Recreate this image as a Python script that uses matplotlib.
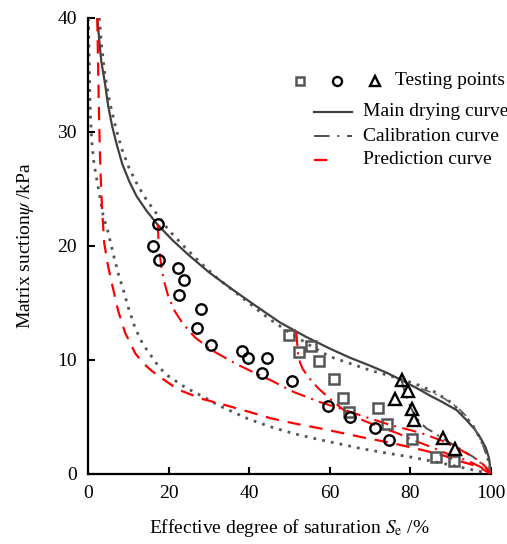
import matplotlib
matplotlib.use("Agg")
import matplotlib.pyplot as plt
from matplotlib.lines import Line2D

plt.rcParams['font.family'] = ['Liberation Serif', 'DejaVu Serif']
plt.rcParams['mathtext.fontset'] = 'stix'

# ---------------- data ----------------
# Testing points (Se %, suction kPa)
sq_x = [49.8, 52.3, 55.3, 57.2, 61.1, 63.2, 64.8, 72.0, 74.3, 80.5, 86.3, 90.9]
sq_y = [12.2, 10.7, 11.2, 9.9, 8.3, 6.7, 5.4, 5.8, 4.4, 3.1, 1.5, 1.1]

ci_x = [17.4, 16.1, 17.7, 22.3, 23.7, 22.5, 28.0, 27.1, 30.5, 38.1, 39.6, 44.3,
        43.1, 50.7, 59.6, 65.1, 71.3, 74.6]
ci_y = [21.9, 20.0, 18.8, 18.1, 17.0, 15.7, 14.5, 12.8, 11.3, 10.8, 10.2, 10.2,
        8.9, 8.2, 6.0, 5.0, 4.0, 3.0]

tr_x = [77.8, 79.3, 76.2, 80.5, 80.8, 88.0, 91.0]
tr_y = [8.25, 7.3, 6.6, 5.7, 4.7, 3.2, 2.2]

# Main drying curve
main_x = [2.3, 2.8, 3.3, 4.2, 5.0, 6.0, 7.2, 8.5, 10.2, 12.0, 14.5, 17.2, 21.0,
          25.0, 30.0, 35.0, 41.0, 47.6, 54.0, 60.0, 65.0, 70.0, 74.0, 78.0, 82.0,
          85.0, 88.0, 91.5, 94.0, 96.0, 97.5, 98.7, 99.5, 100.0]
main_y = [40.0, 38.0, 36.2, 34.3, 32.3, 30.5, 28.8, 27.2, 25.7, 24.4, 23.1, 21.9,
          20.5, 19.2, 17.7, 16.4, 14.9, 13.3, 12.05, 11.0, 10.2, 9.5, 8.9, 8.2, 7.45,
          6.85, 6.3, 5.6, 4.7, 3.9, 3.1, 2.3, 1.4, 0.0]

# Dotted curve close to main drying curve
dotm_x = [2.8, 3.4, 4.2, 5.4, 6.8, 8.3, 10.0, 12.2, 14.6, 17.5, 20.0, 24.0, 28.0,
          32.0, 36.0, 41.0, 45.0, 50.0, 55.0, 60.0, 65.0, 70.0, 74.0, 78.0, 82.0,
          86.0, 90.0, 93.0, 95.6, 97.5, 99.0, 100.0]
dotm_y = [40.0, 37.5, 35.0, 32.6, 30.5, 28.6, 27.0, 25.4, 24.0, 22.6, 21.4, 19.9,
          18.5, 17.2, 16.1, 14.7, 13.6, 12.4, 11.3, 10.3, 9.7, 9.1, 8.7, 8.3, 7.8,
          7.2, 6.3, 5.3, 4.2, 3.0, 1.7, 0.0]

# Dotted curve on the left (lower boundary)
dotl_x = [0.1, 0.3, 0.5, 0.9, 1.5, 2.2, 3.0, 3.8, 5.0, 6.2, 7.5, 8.8, 10.0, 11.7,
          13.6, 15.8, 17.8, 19.9, 22.0, 24.1, 27.4, 30.0, 32.8, 35.6, 40.0, 45.2,
          51.0, 57.6, 63.0, 67.5, 73.0, 79.9, 85.0, 89.8, 95.0, 100.0]
dotl_y = [40.0, 36.0, 32.5, 29.3, 27.2, 25.8, 24.2, 22.6, 21.2, 19.4, 17.6, 16.1,
          14.6, 12.8, 11.4, 10.3, 9.3, 8.6, 8.1, 7.6, 7.0, 6.5, 5.95, 5.5, 4.8, 4.15,
          3.55, 3.0, 2.6, 2.25, 1.9, 1.5, 1.15, 0.8, 0.4, 0.0]

# Prediction curve (main, left)
pred_x = [2.3, 2.5, 2.7, 2.9, 3.1, 3.5, 4.0, 5.0, 6.0, 7.5, 9.2, 11.7, 13.6, 15.8,
          18.3, 22.4, 28.2, 34.0, 40.0, 45.2, 51.0, 57.6, 63.0, 69.0, 75.0, 83.0,
          88.0, 91.5, 95.0, 97.3, 100.0]
pred_y = [40.0, 36.0, 32.0, 29.0, 26.5, 23.2, 20.3, 18.2, 16.6, 14.3, 12.4, 10.6,
          9.75, 9.05, 8.4, 7.4, 6.6, 6.05, 5.45, 4.9, 4.45, 4.0, 3.6, 3.15, 2.75, 2.1,
          1.65, 1.2, 0.85, 0.55, 0.0]

# Prediction scanning curve from circle series
scan1_x = [17.3, 17.5, 17.8, 18.2, 18.8, 19.9, 21.5, 23.5, 26.5, 30.5, 36.5, 40.0,
           45.2, 51.0, 57.6, 63.0, 68.0, 75.0, 80.0, 83.0, 88.0, 91.5, 95.0, 97.3,
           99.0, 100.0]
scan1_y = [21.9, 20.5, 19.3, 18.2, 17.0, 15.6, 14.3, 13.2, 12.0, 10.9, 9.7, 9.1,
           8.25, 7.2, 6.3, 5.7, 5.1, 4.3, 3.85, 3.55, 2.9, 2.3, 1.6, 1.1, 0.5, 0.0]

# Prediction scanning curve from square series
scan2_x = [51.7, 51.9, 52.1, 52.6, 53.3, 54.3, 55.6, 57.2, 60.0, 63.5, 68.3, 72.5,
           76.6, 80.5, 84.9, 89.0, 94.0, 97.5, 100.0]
scan2_y = [12.5, 11.5, 10.6, 9.8, 9.2, 8.7, 8.1, 7.5, 6.6, 5.6, 4.7, 4.1,
           3.6, 3.0, 2.4, 1.8, 1.2, 0.6, 0.0]

# Calibration curve through triangles
cal_x = [77.8, 78.2, 78.7, 79.3, 80.0, 81.0, 82.5, 84.0, 85.5, 88.0, 91.5, 95.6,
         98.0, 100.0]
cal_y = [8.25, 7.7, 7.1, 6.5, 5.9, 5.2, 4.5, 4.0, 3.7, 3.1, 2.4, 1.5, 0.8, 0.0]

# Calibration curve along drying branch (right part)
cal2_x = [77.8, 79.9, 82.5, 85.7, 88.5, 91.5, 93.8, 95.6, 97.0, 98.1, 99.2, 100.0]
cal2_y = [8.3, 7.85, 7.5, 7.1, 6.6, 5.9, 5.1, 4.2, 3.3, 2.4, 1.3, 0.0]

# ---------------- figure ----------------
fig = plt.figure(figsize=(5.07, 5.44), dpi=100)
ax = fig.add_axes([88 / 507, 70 / 544, 403 / 507, 456 / 544])

grey_dot = '#555555'
red = '#ff0000'

ax.plot(dotl_x, dotl_y, color=grey_dot, lw=2.0, ls=(0, (1, 2.2)), zorder=2)
ax.plot(dotm_x, dotm_y, color=grey_dot, lw=2.0, ls=(0, (1, 2.2)), zorder=2)
ax.plot(main_x, main_y, color='#404040', lw=1.6, ls='-', zorder=3)
ax.plot(cal_x, cal_y, color='#505050', lw=1.4, ls=(0, (6, 3, 1, 3)), zorder=3)
ax.plot(cal2_x, cal2_y, color='#606060', lw=1.2, ls=(0, (6, 3, 1, 3)), zorder=3)
ax.plot(pred_x, pred_y, color=red, lw=1.6, ls=(0, (6, 4)), zorder=3)
ax.plot(scan1_x, scan1_y, color=red, lw=1.5, ls=(0, (7, 3, 1, 3)), zorder=3)
ax.plot(scan2_x, scan2_y, color=red, lw=1.5, ls=(0, (7, 3, 1, 3)), zorder=3)

ax.plot(sq_x, sq_y, ls='none', marker='s', ms=6.5, mfc='none', mec='#555555',
        mew=1.8, zorder=5)
ax.plot(ci_x, ci_y, ls='none', marker='o', ms=7.5, mfc='none', mec='black',
        mew=1.7, zorder=5)
ax.plot(tr_x, tr_y, ls='none', marker='^', ms=8, mfc='none', mec='black',
        mew=1.7, zorder=5)

ax.set_xlim(0, 100)
ax.set_ylim(0, 40)
ax.set_xticks([0, 20, 40, 60, 80, 100])
ax.set_yticks([0, 10, 20, 30, 40])
ax.tick_params(direction='in', length=5, width=1.5, labelsize=14, pad=8,
               colors='black')
for s in ['top', 'right']:
    ax.spines[s].set_visible(False)
for s in ['left', 'bottom']:
    ax.spines[s].set_linewidth(1.6)
    ax.spines[s].set_color('black')

ax.set_xlabel('Effective degree of saturation $S_\\mathrm{e}$ /%', fontsize=14,
              labelpad=11)
ax.set_ylabel('Matrix suction$\\psi$ /kPa', fontsize=14, labelpad=15)

# ---------------- legend (manual) ----------------
tr = ax.transAxes
ly = [0.8625, 0.7945, 0.741, 0.6886]
ax.add_line(Line2D([0.525], [ly[0]], transform=tr, marker='s', ms=5.5, mfc='none',
                   mec='#555555', mew=1.8, clip_on=False))
ax.add_line(Line2D([0.617], [ly[0]], transform=tr, marker='o', ms=6.5, mfc='none',
                   mec='black', mew=1.7, clip_on=False))
ax.add_line(Line2D([0.712], [ly[0]], transform=tr, marker='^', ms=6.5, mfc='none',
                   mec='black', mew=1.7, clip_on=False))
ax.add_line(Line2D([0.560, 0.655], [ly[1], ly[1]], transform=tr, color='#404040',
                   lw=1.6, clip_on=False))
ax.add_line(Line2D([0.560, 0.655], [ly[2], ly[2]], transform=tr, color='#505050',
                   lw=1.4, ls=(0, (8, 4, 1, 4)), clip_on=False))
ax.add_line(Line2D([0.560, 0.630], [ly[3], ly[3]], transform=tr, color=red,
                   lw=1.6, ls=(0, (6, 7)), clip_on=False))
ax.text(0.762, ly[0], 'Testing points', transform=tr, fontsize=14, va='center',
        ha='left', clip_on=False)
ax.text(0.682, ly[1], 'Main drying curve', transform=tr, fontsize=14,
        va='center', ha='left', clip_on=False)
ax.text(0.682, ly[2], 'Calibration curve', transform=tr, fontsize=14,
        va='center', ha='left', clip_on=False)
ax.text(0.682, ly[3], 'Prediction curve', transform=tr, fontsize=14,
        va='center', ha='left', clip_on=False)

fig.savefig('out.png', dpi=100)
